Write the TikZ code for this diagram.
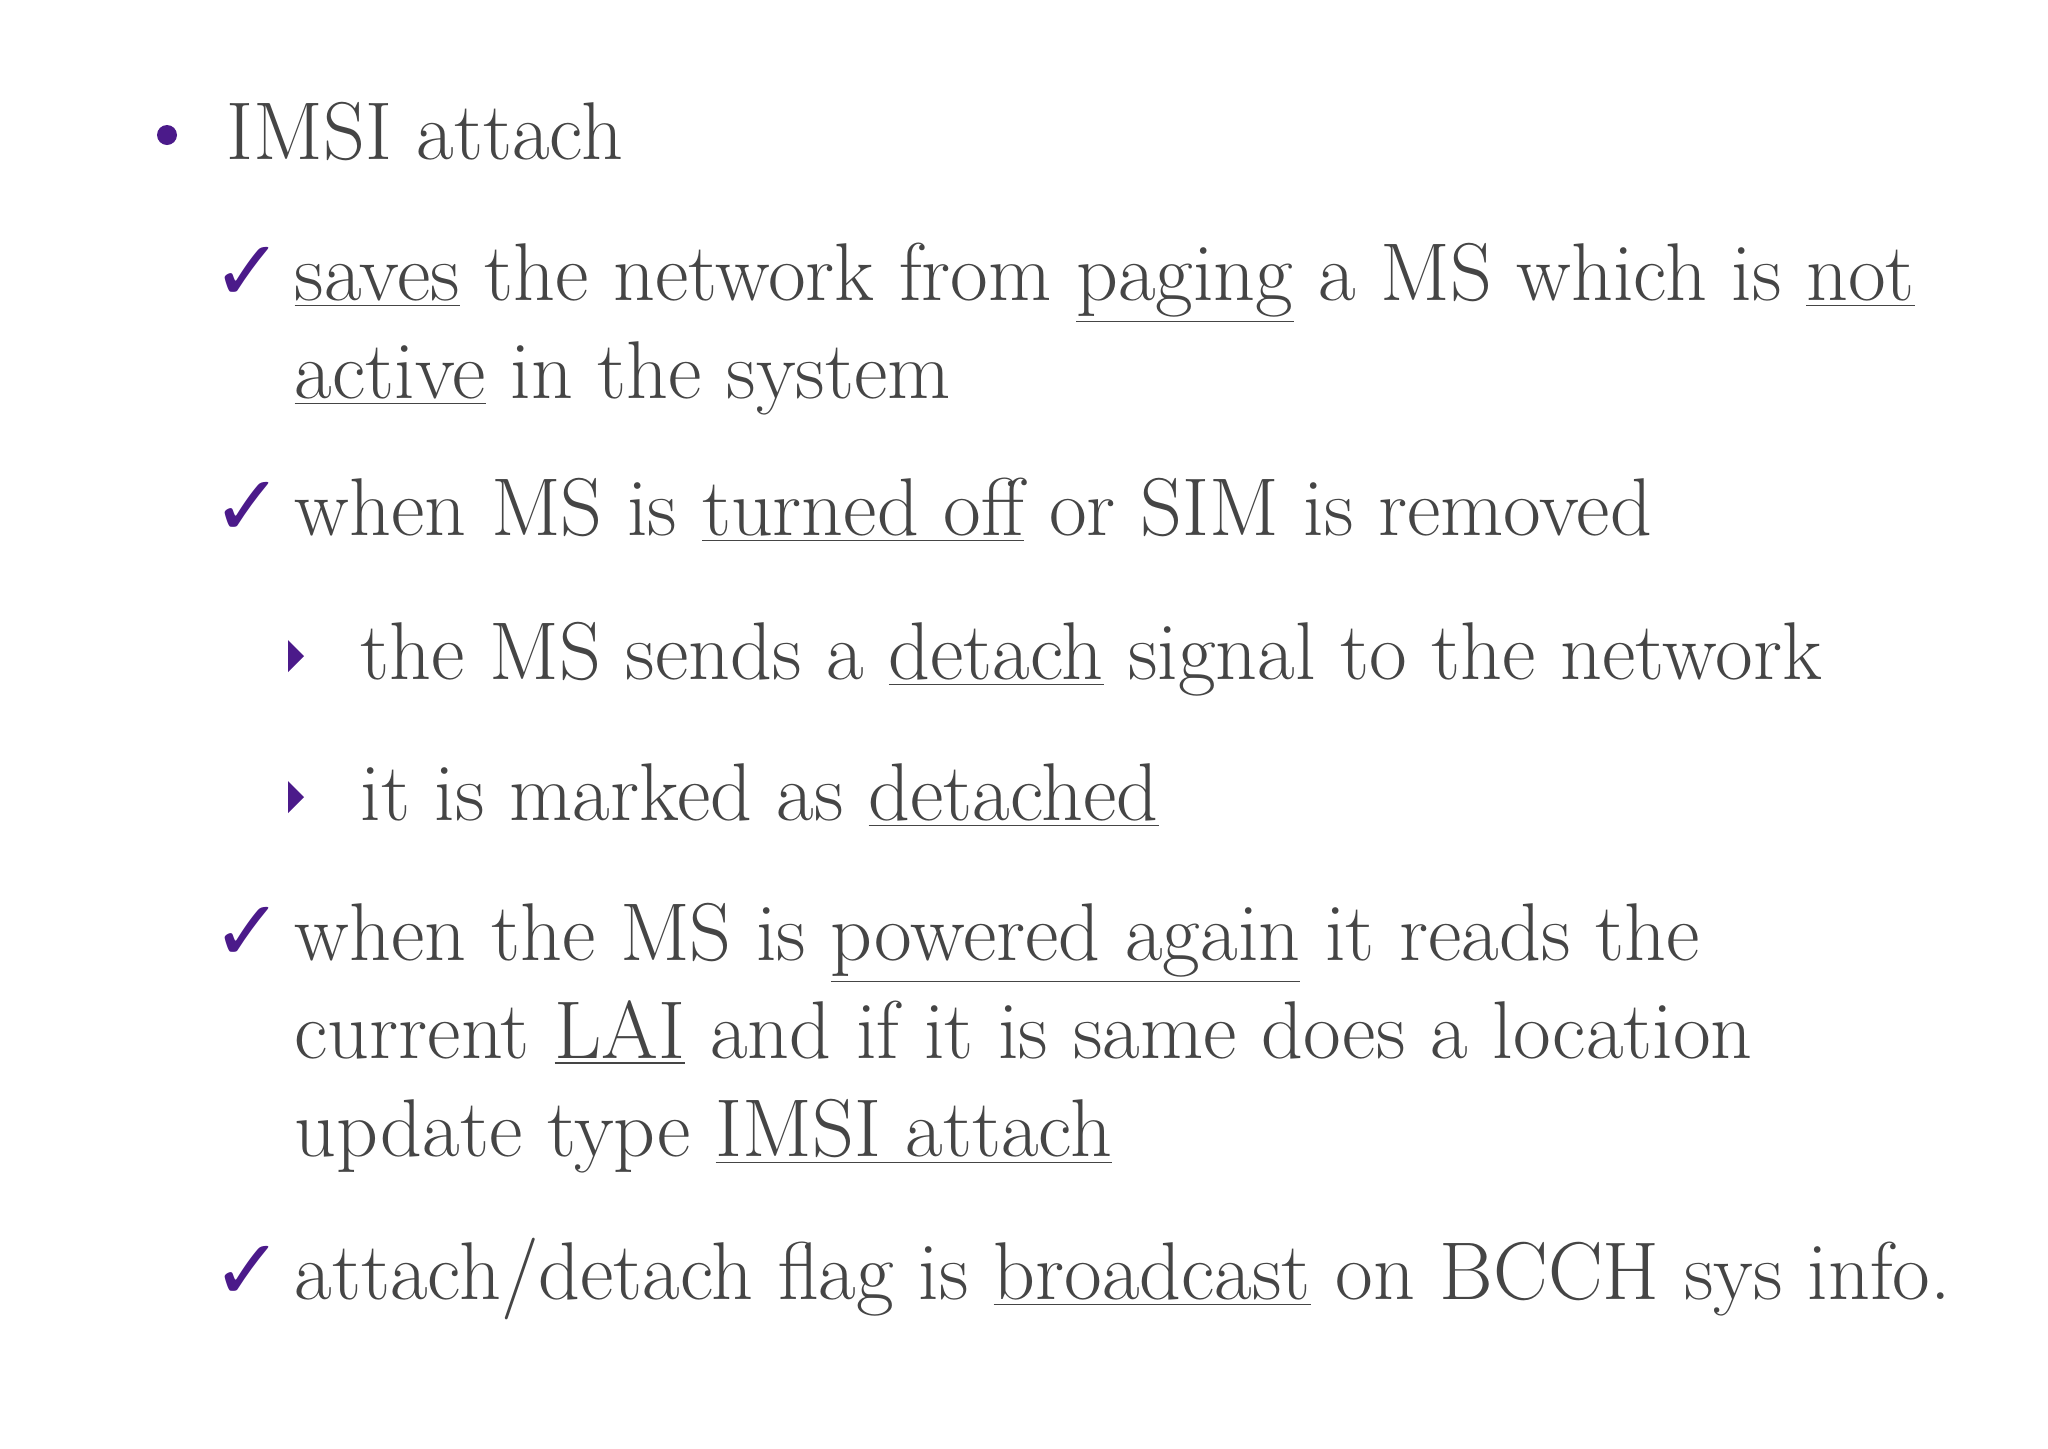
\documentclass[tikz,border=0pt]{standalone}
\usepackage{fontspec}
\newfontfamily\symf{DejaVu Sans}
\definecolor{txt}{HTML}{454545}
\definecolor{pur}{HTML}{4B1A8A}
\newcommand{\ul}[1]{\underline{#1}}
\begin{document}
\begin{tikzpicture}[x=0.01cm,y=-0.01cm,
  t/.style={anchor=base west,inner sep=0,text=txt,font=\fontsize{23.3}{27}\selectfont},
  ck/.style={anchor=base west,inner sep=0,text=pur,font=\symf\fontsize{24}{26}\selectfont\bfseries}]
\useasboundingbox (0,0) rectangle (2048,1448);
\fill[pur] (167,135) circle (10);
\node[t] (l0) at (226,159) {IMSI attach};
\node[ck] (c1) at (212,300) {✓};
\node[t] (l1) at (294,300) {\ul{saves} the network from \ul{paging} a MS which is \ul{not}};
\node[t] (l2) at (294,398) {\ul{active} in the system};
\node[ck] (c2) at (212,535) {✓};
\node[t] (l3) at (294,535) {when MS is \ul{turned off} or SIM is removed};
\fill[pur] (288,640) -- (304,656) -- (288,672) -- cycle;
\node[t] (l4) at (360,679) {the MS sends a \ul{detach} signal to the network};
\fill[pur] (288,781) -- (304,797) -- (288,813) -- cycle;
\node[t] (l5) at (360,820) {it is marked as \ul{detached}};
\node[ck] (c3) at (212,960) {✓};
\node[t] (l6) at (294,960) {when the MS is \ul{powered again} it reads the};
\node[t] (l7) at (294,1058) {current \ul{LAI} and if it is same does a location};
\node[t] (l8) at (294,1156) {update type \ul{IMSI attach}};
\node[ck] (c4) at (212,1299) {✓};
\node[t] (l9) at (294,1299) {attach/detach flag is \ul{broadcast} on BCCH sys info.};
\end{tikzpicture}
\end{document}
